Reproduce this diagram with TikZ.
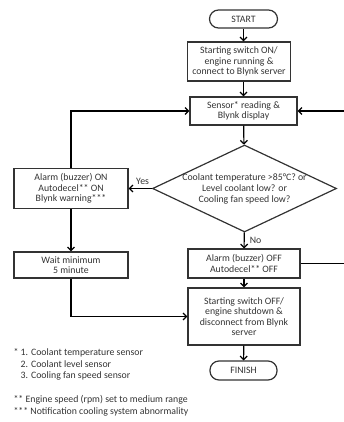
\documentclass[tikz,border=0pt]{standalone}
\usepackage{fontspec}
\setmainfont{Carlito}
\usetikzlibrary{positioning,arrows.meta,shapes.geometric}

\begin{document}
\begin{tikzpicture}[
    x=1pt, y=-1pt,
    >={Straight Barb[length=3.5pt,width=7pt]},
    line width=1.2pt,
    every node/.style={text=black!80},
    proc/.style={rectangle, draw=black!80, align=center, inner sep=0pt, font=\fontsize{9.8}{10.3}\selectfont},
    term/.style={rectangle, rounded corners=9pt, draw=black!80, inner sep=0pt, font=\fontsize{9.8}{10.3}\selectfont},
    decision/.style={diamond, draw=black!80, aspect=2.1, inner sep=-6pt, align=center, font=\fontsize{9.8}{11}\selectfont},
    lbl/.style={font=\fontsize{9.8}{10.3}\selectfont, inner sep=0pt},
    note/.style={anchor=north west, align=left, inner sep=0pt, font=\fontsize{9.8}{11.5}\selectfont}
]
\useasboundingbox (0,0) rectangle (343,422);

% Lanes
\def\xL{71}
\def\xM{243.5}
\def\xR{360}

% Rows
\def\yStart{19}
\def\yOn{61.5}
\def\ySens{111}
\def\yDec{188.5}
\def\yWait{265}
\def\yOff{263.5}
\def\yStop{316.5}
\def\yFin{370.5}

% Main column
\node[term] (start) at (\xM,\yStart) [minimum width=68pt, minimum height=18pt] {START};
\node[proc] (swon) at (239,\yOn) [minimum width=103pt, minimum height=39pt]
    {Starting switch ON/\\engine running \&\\connect to Blynk server};
\node[proc] (sensor) at (\xM,\ySens) [minimum width=107pt, minimum height=28pt]
    {Sensor* reading \&\\Blynk display};
\node[decision] (dec) at (244.5,\yDec) [minimum width=184pt, minimum height=87pt]
    {Coolant temperature >85°C? or\\Level coolant low? or\\Cooling fan speed low?};
\node[proc] (alarmoff) at (244,\yOff) [minimum width=112pt, minimum height=29pt]
    {Alarm (buzzer) OFF\\Autodecel** OFF};
\node[proc] (swoff) at (244,\yStop) [minimum width=112pt, minimum height=57pt]
    {Starting switch OFF/\\engine shutdown \&\\disconnect from Blynk\\server};
\node[term] (finish) at (\xM,\yFin) [minimum width=67pt, minimum height=19pt] {FINISH};

% Left column
\node[proc] (alarmon) at (\xL,\yDec) [minimum width=114pt, minimum height=40pt]
    {Alarm (buzzer) ON\\Autodecel** ON\\Blynk warning***};
\node[proc] (wait) at (\xL,\yWait) [minimum width=114pt, minimum height=26pt]
    {Wait minimum\\5 minute};

% Flow
\draw[->] (start.south) -- (start.south |- swon.north);
\draw[->] (sensor.north |- swon.south) -- (sensor.north);
\draw[->] (sensor) -- (dec);
\draw[->] (dec) -- (alarmon) node[lbl, pos=0.4, above=3pt] (yes) {Yes};
\draw[->] (dec) -- (alarmoff) node[lbl, pos=0.5, right=5pt] (no) {No};
\draw[->] (alarmon) -- (wait);
\draw[->] (alarmoff) -- (swoff);
\draw[->] (swoff) -- (finish);

% Loops back to the sensor box
\draw[->] (alarmon.north) |- (sensor.west);
\coordinate (rback) at (\xR,\ySens);
\draw[->] (alarmoff.east) -| (rback) -- (sensor.east);
\draw[->] (wait.south) |- (swoff.west);

% Notes
\node[note] (fn1) at (13,348) {* 1. Coolant temperature sensor\\
    \phantom{* }2. Coolant level sensor\\
    \phantom{* }3. Cooling fan speed sensor};
\node[note] (fn2) at (13,395) {** Engine speed (rpm) set to medium range\\
    *** Notification cooling system abnormality};
\end{tikzpicture}
\end{document}
